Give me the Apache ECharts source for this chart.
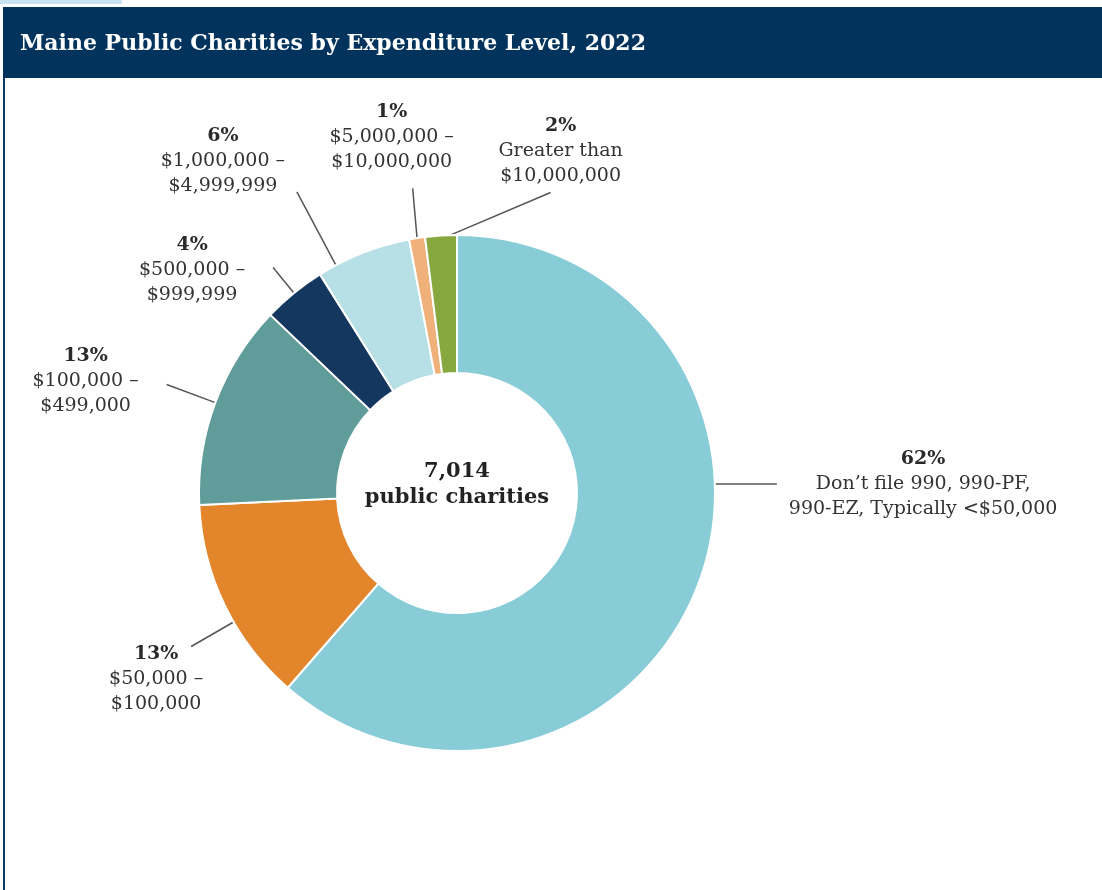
<!DOCTYPE html>
<html>
<head>
<meta charset="utf-8">
<title>Maine Public Charities by Expenditure Level, 2022</title>
<script src="https://cdn.jsdelivr.net/npm/echarts@6/dist/echarts.min.js"></script>
<style>
  html, body { margin: 0; padding: 0; background: #fff; }
  #chart { width: 1102px; height: 890px; }
</style>
</head>
<body>
<div id="chart"></div>
<script>
// data
const titleText = 'Maine Public Charities by Expenditure Level, 2022'
const totalCharities = 7014
const categories = [
  'Don’t file 990, 990-PF,\n990-EZ, Typically <$50,000',
  '$50,000 –\n$100,000',
  '$100,000 –\n$499,000',
  '$500,000 –\n$999,999',
  '$1,000,000 –\n$4,999,999',
  '$5,000,000 –\n$10,000,000',
  'Greater than\n$10,000,000'
]
const shares = [62, 13, 13, 4, 6, 1, 2]
const colors = ['#88ccd8', '#e2852b', '#5f9c9a', '#13375e', '#b6dfe6', '#efb07a', '#87a83f']

// label leader lines: length, optional start angle / direction (deg clockwise from top), text offset
const labelGuides = [
  { at: 88, dir: 90, len: 62, align: 'left', dx: 12, dy: 0 },
  { at: 240, len: 49, align: 'center', dx: -35, dy: 33 },
  { len: 52, align: 'center', dx: -81, dy: -3 },
  { len: 33, align: 'center', dx: -81, dy: 3 },
  { at: 332, len: 83, align: 'center', dx: -74, dy: -31 },
  { dir: 355, len: 50, align: 'center', dx: -21, dy: -51 },
  { at: 358.5, dir: 67, len: 109, align: 'center', dx: 10, dy: -41 }
]

const FONT = "'DejaVu Serif', serif"
const cx = 457
const cy = 493
const outerR = 258

const chart = echarts.init(document.getElementById('chart'))

const total = shares.reduce((a, b) => a + b, 0)
function midAngle(i) {
  let before = 0
  for (let k = 0; k < i; k++) before += shares[k]
  return (before + shares[i] / 2) / total * 360
}
function onCircle(deg, r) {
  const a = deg * Math.PI / 180
  return [cx + r * Math.sin(a), cy - r * Math.cos(a)]
}

const option = {
  animation: false,
  graphic: [
    { type: 'rect', shape: { x: 0, y: 0, width: 122, height: 4 }, style: { fill: '#c8e4f1' } },
    { type: 'rect', shape: { x: 3, y: 7, width: 1099, height: 71 }, style: { fill: '#01335d' } },
    { type: 'rect', shape: { x: 3, y: 78, width: 2, height: 812 }, style: { fill: '#0b3a68' } },
    {
      type: 'text', x: 20, y: 44,
      style: {
        text: titleText, fill: '#fff', verticalAlign: 'middle',
        font: "bold 22px " + FONT
      }
    },
    {
      type: 'text', x: cx, y: 485, z: 10,
      style: {
        text: totalCharities.toLocaleString('en-US') + '\npublic charities',
        fill: '#222', align: 'center', verticalAlign: 'middle',
        font: "bold 21px " + FONT, lineHeight: 26
      }
    }
  ],
  series: [
    {
      type: 'pie',
      center: [cx, cy],
      radius: [120, outerR],
      startAngle: 90,
      clockwise: true,
      avoidLabelOverlap: false,
      itemStyle: { borderColor: '#fff', borderWidth: 2 },
      label: {
        show: true,
        position: 'outside',
        formatter: p => {
          const lines = categories[p.dataIndex].split('\n').map(s => '{t|' + s + '}')
          return '{p|' + p.value + '%}\n' + lines.join('\n')
        },
        rich: {
          p: { fontFamily: FONT, fontWeight: 'bold', fontSize: 19, color: '#2a2a2a', lineHeight: 25, align: 'center' },
          t: { fontFamily: FONT, fontSize: 19, color: '#333', lineHeight: 25, align: 'center' }
        }
      },
      labelLine: { show: true, lineStyle: { color: '#555', width: 1.5 } },
      labelLayout: params => {
        const i = params.dataIndex
        const g = labelGuides[i]
        const p1 = g.at != null ? onCircle(g.at, outerR)
          : (params.labelLinePoints ? params.labelLinePoints[0] : onCircle(midAngle(i), outerR))
        const dir = g.dir != null ? g.dir
          : Math.atan2(p1[0] - cx, cy - p1[1]) * 180 / Math.PI
        const a = dir * Math.PI / 180
        const p2 = [p1[0] + g.len * Math.sin(a), p1[1] - g.len * Math.cos(a)]
        return {
          x: p2[0] + g.dx,
          y: p2[1] + g.dy,
          align: g.align,
          verticalAlign: 'middle',
          labelLinePoints: [p1, p2, p2]
        }
      },
      data: shares.map((v, i) => ({
        value: v,
        name: categories[i],
        itemStyle: { color: colors[i] }
      }))
    }
  ]
}

chart.setOption(option)
</script>
</body>
</html>
